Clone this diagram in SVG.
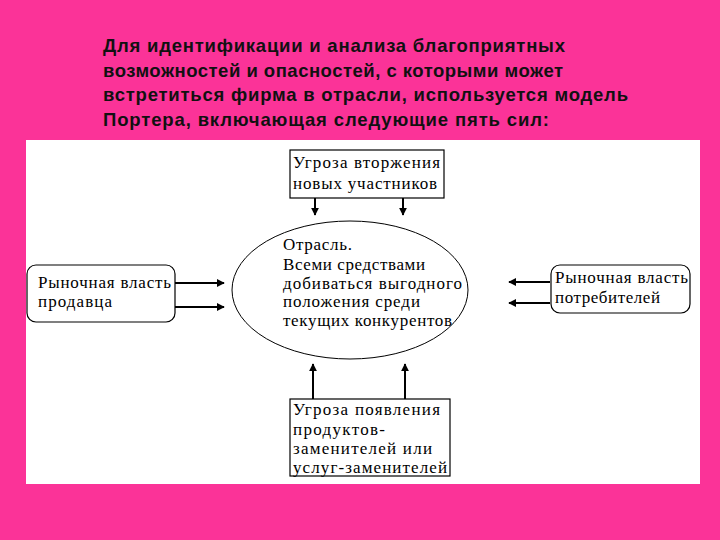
<svg xmlns="http://www.w3.org/2000/svg" width="720" height="540" viewBox="0 0 720 540">
<defs>
<style>
.title{font-family:"Liberation Sans",Arial,sans-serif;font-weight:bold;font-size:18.5px;fill:#111}
.lbl{font-family:"Liberation Serif","Times New Roman",serif;font-size:17px;fill:#000}
.box{fill:#fff;stroke:#000;stroke-width:1.2}
.ln{stroke:#000;stroke-width:2;fill:none}
</style>
<marker id="ah" viewBox="0 0 10 10" refX="9" refY="5" markerWidth="4" markerHeight="4" orient="auto" markerUnits="strokeWidth">
<path d="M0,0 L10,5 L0,10 z" fill="#000"/>
</marker>
</defs>
<rect width="720" height="540" fill="#FB3398"/>
<rect x="26" y="140" width="674" height="344" fill="#fff"/>
<g id="title">
<text class="title" x="103" y="52" textLength="462" lengthAdjust="spacing">Для идентификации и анализа благоприятных</text>
<text class="title" x="103" y="77" textLength="460" lengthAdjust="spacing">возможностей и опасностей, с которыми может</text>
<text class="title" x="103" y="101" textLength="525" lengthAdjust="spacing">встретиться фирма в отрасли, используется модель</text>
<text class="title" x="103" y="126" textLength="446" lengthAdjust="spacing">Портера, включающая следующие пять сил:</text>
</g>
<g id="connectors">
<line class="ln" x1="315" y1="198" x2="315" y2="215" marker-end="url(#ah)"/>
<line class="ln" x1="403" y1="198" x2="403" y2="215" marker-end="url(#ah)"/>
<line class="ln" x1="175" y1="283" x2="224" y2="283" marker-end="url(#ah)"/>
<line class="ln" x1="175" y1="307" x2="224" y2="307" marker-end="url(#ah)"/>
<line class="ln" x1="550" y1="282" x2="509" y2="282" marker-end="url(#ah)"/>
<line class="ln" x1="550" y1="303" x2="509" y2="303" stroke-width="3" marker-end="url(#ah)"/>
<line class="ln" x1="313" y1="399" x2="313" y2="364" marker-end="url(#ah)"/>
<line class="ln" x1="405" y1="399" x2="405" y2="364" marker-end="url(#ah)"/>
</g>
<g id="industry">
<ellipse cx="350" cy="290" rx="118" ry="69" fill="#fff" stroke="#000" stroke-width="1"/>
<text class="lbl" x="283" y="250" textLength="69" lengthAdjust="spacing">Отрасль.</text>
<text class="lbl" x="283" y="270" textLength="142" lengthAdjust="spacing">Всеми средствами</text>
<text class="lbl" x="283" y="289" textLength="179" lengthAdjust="spacing">добиваться выгодного</text>
<text class="lbl" x="283" y="307" textLength="137" lengthAdjust="spacing">положения среди</text>
<text class="lbl" x="283" y="326" textLength="169" lengthAdjust="spacing">текущих конкурентов</text>
</g>
<g id="new-entrants">
<rect class="box" x="290" y="150" width="154" height="48"/>
<text class="lbl" x="293" y="168" textLength="147" lengthAdjust="spacing">Угроза вторжения</text>
<text class="lbl" x="293" y="189" textLength="144" lengthAdjust="spacing">новых участников</text>
</g>
<g id="suppliers">
<rect class="box" x="27" y="265" width="148" height="57" rx="9"/>
<text class="lbl" x="38" y="288" textLength="133" lengthAdjust="spacing">Рыночная власть</text>
<text class="lbl" x="38" y="307" textLength="74" lengthAdjust="spacing">продавца</text>
</g>
<g id="buyers">
<rect class="box" x="551" y="265" width="139" height="48" rx="9"/>
<text class="lbl" x="555" y="283" textLength="133" lengthAdjust="spacing">Рыночная власть</text>
<text class="lbl" x="555" y="303" textLength="105" lengthAdjust="spacing">потребителей</text>
</g>
<g id="substitutes">
<rect class="box" x="290" y="399" width="160" height="77"/>
<text class="lbl" x="293" y="415" textLength="147" lengthAdjust="spacing">Угроза появления</text>
<text class="lbl" x="293" y="435" textLength="92" lengthAdjust="spacing">продуктов-</text>
<text class="lbl" x="293" y="454" textLength="139" lengthAdjust="spacing">заменителей или</text>
<text class="lbl" x="293" y="473" textLength="154" lengthAdjust="spacing">услуг-заменителей</text>
</g>
</svg>
